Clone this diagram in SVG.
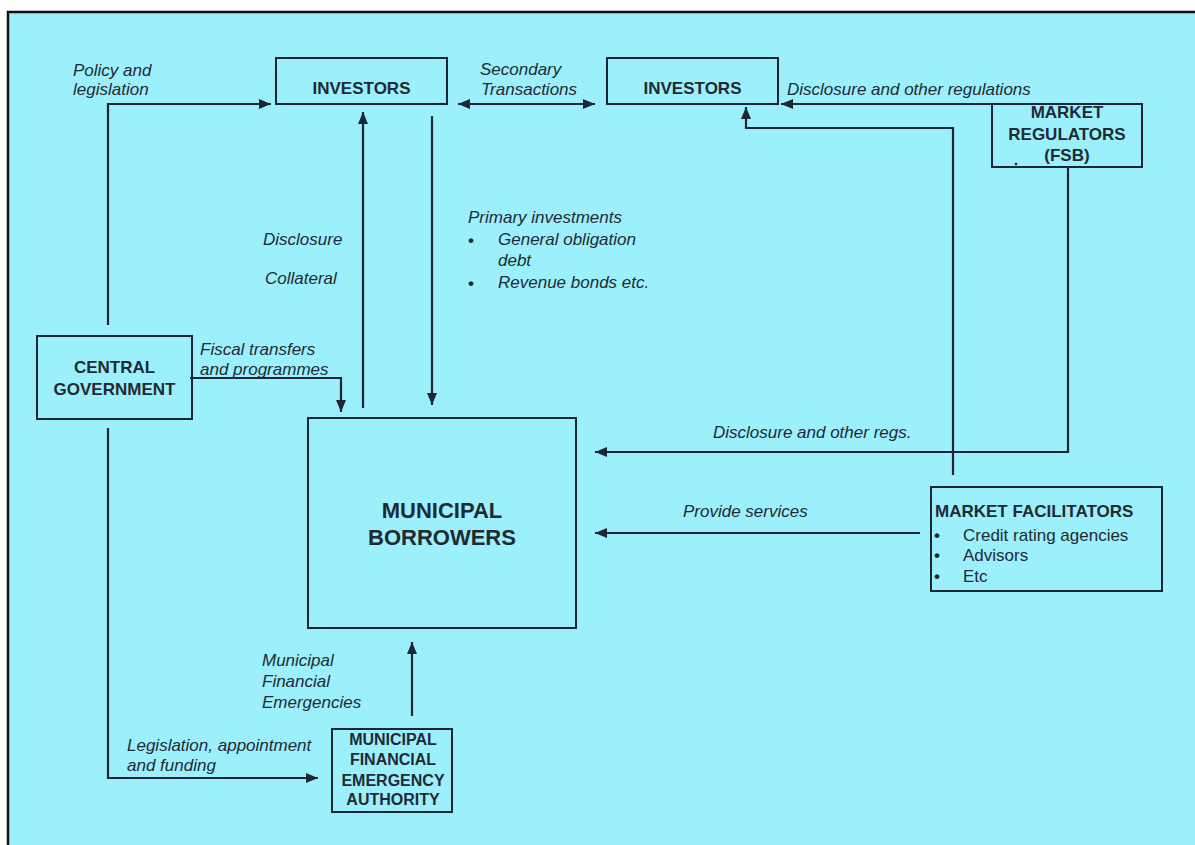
<svg xmlns="http://www.w3.org/2000/svg" width="1195" height="845" viewBox="0 0 1195 845">
<defs>
<marker id="ah" viewBox="0 0 12 10" refX="12" refY="5" markerWidth="12" markerHeight="10" markerUnits="userSpaceOnUse" orient="auto-start-reverse">
<path d="M0,0 L12,5 L0,10 z" fill="#1c2733"/>
</marker>
<style>
.box{fill:none;stroke:#1c2733;stroke-width:2}
.ln{fill:none;stroke:#1c2733;stroke-width:2.2}
.b{font-family:"Liberation Sans",Arial,sans-serif;font-weight:bold;font-size:17px;fill:#1f2a33}
.i{font-family:"Liberation Sans",Arial,sans-serif;font-style:italic;font-size:17px;fill:#1f2a33}
.r{font-family:"Liberation Sans",Arial,sans-serif;font-size:17px;fill:#1f2a33}
.c{text-anchor:middle}
</style>
</defs>
<rect x="0" y="0" width="1195" height="845" fill="#ffffff"/>
<rect x="7" y="11" width="1200" height="850" fill="#9cf0fc"/>
<path d="M8,845 V12 H1195" fill="none" stroke="#111" stroke-width="2.5"/>

<g id="connectors">
<path class="ln" d="M108,325 V104 H271" marker-end="url(#ah)"/>
<path class="ln" d="M458,104 H595" marker-start="url(#ah)" marker-end="url(#ah)"/>
<path class="ln" d="M363,408 V112" marker-end="url(#ah)"/>
<path class="ln" d="M432,116 V405" marker-end="url(#ah)"/>
<path class="ln" d="M190,378 H341 V412" marker-end="url(#ah)"/>
<path class="ln" d="M992,104 H781" marker-end="url(#ah)"/>
<path class="ln" d="M953,475 V128 H746 V107" marker-end="url(#ah)"/>
<path class="ln" d="M1068,167 V452 H595" marker-end="url(#ah)"/>
<path class="ln" d="M920,533 H595" marker-end="url(#ah)"/>
<path class="ln" d="M412,716 V642" marker-end="url(#ah)"/>
<path class="ln" d="M108,428 V778 H318" marker-end="url(#ah)"/>
</g>

<g id="labels">
<text class="i" x="73" y="76">Policy and</text>
<text class="i" x="73" y="95">legislation</text>
<text class="i" x="480" y="75">Secondary</text>
<text class="i" x="481" y="95">Transactions</text>
<text class="i" x="787" y="95">Disclosure and other regulations</text>
<text class="i" x="263" y="245">Disclosure</text>
<text class="i" x="265" y="284">Collateral</text>
<text class="i" x="468" y="223">Primary investments</text>
<text class="b" x="468" y="246">•</text>
<text class="i" x="498" y="245">General obligation</text>
<text class="i" x="498" y="266">debt</text>
<text class="b" x="468" y="289">•</text>
<text class="i" x="498" y="288">Revenue bonds etc.</text>
<text class="i" x="200" y="355">Fiscal transfers</text>
<text class="i" x="200" y="375">and programmes</text>
<text class="i" x="713" y="438">Disclosure and other regs.</text>
<text class="i" x="683" y="517">Provide services</text>
<text class="i" x="262" y="666">Municipal</text>
<text class="i" x="262" y="687">Financial</text>
<text class="i" x="262" y="708">Emergencies</text>
<text class="i" x="127" y="751">Legislation, appointment</text>
<text class="i" x="127" y="771">and funding</text>
</g>

<g id="investors1">
<rect class="box" x="276" y="58" width="171" height="46"/>
<text class="b c" x="361.5" y="94">INVESTORS</text>
</g>
<g id="investors2">
<rect class="box" x="607" y="58" width="171" height="46"/>
<text class="b c" x="692.5" y="94">INVESTORS</text>
</g>
<g id="market-regulators">
<rect class="box" x="992" y="104" width="150" height="63"/>
<text class="b c" x="1067" y="118">MARKET</text>
<text class="b c" x="1067" y="140">REGULATORS</text>
<text class="b c" x="1067" y="161">(FSB)</text>
<circle cx="1016" cy="164" r="1.3" fill="#1c2733"/>
</g>
<g id="central-government">
<rect class="box" x="37" y="336" width="155" height="83"/>
<text class="b c" x="114.5" y="373">CENTRAL</text>
<text class="b c" x="114.5" y="395">GOVERNMENT</text>
</g>
<g id="municipal-borrowers">
<rect class="box" x="308" y="418" width="268" height="210"/>
<text class="b c" x="442" y="518" style="font-size:22px">MUNICIPAL</text>
<text class="b c" x="442" y="545" style="font-size:22px">BORROWERS</text>
</g>
<g id="market-facilitators">
<rect class="box" x="931" y="487" width="231" height="104"/>
<text class="b" x="935" y="517">MARKET FACILITATORS</text>
<text class="b" x="934" y="541">•</text>
<text class="r" x="963" y="541">Credit rating agencies</text>
<text class="b" x="934" y="561">•</text>
<text class="r" x="963" y="561">Advisors</text>
<text class="b" x="934" y="582">•</text>
<text class="r" x="963" y="582">Etc</text>
</g>
<g id="mfea">
<rect class="box" x="332" y="729" width="120" height="83"/>
<text class="b c" x="393" y="745" style="font-size:16px">MUNICIPAL</text>
<text class="b c" x="393" y="765" style="font-size:16px">FINANCIAL</text>
<text class="b c" x="393" y="786" style="font-size:16px">EMERGENCY</text>
<text class="b c" x="393" y="805" style="font-size:16px">AUTHORITY</text>
</g>
</svg>
